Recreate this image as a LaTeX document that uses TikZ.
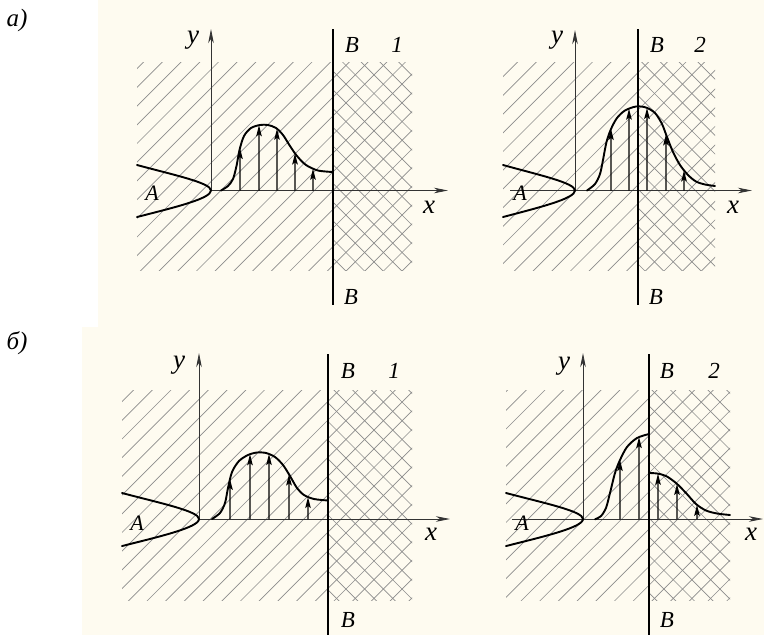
\documentclass[tikz,border=0pt]{standalone}
\usepackage{fontspec}
\setmainfont{Liberation Serif}
\usetikzlibrary{arrows.meta,intersections}
\definecolor{cream}{RGB}{254,251,240}
\definecolor{hatchgray}{RGB}{140,140,140}
\tikzset{
 hatchline/.style={hatchgray, line width=0.65pt},
 axisline/.style={black!80, line width=0.8pt},
 axisarrow/.style={axisline, -{Stealth[length=14pt,width=5.5pt,inset=4pt]}},
 barrier/.style={black, line width=2.4pt},
 curveline/.style={black, line width=1.9pt, line join=round, line cap=round},
 vec/.style={black, line width=1.4pt, -{Stealth[length=11pt,width=5.5pt,inset=2pt]}},
 lbl/.style={inner sep=0pt, font=\fontsize{23}{27}\selectfont\itshape},
 albl/.style={inner sep=0pt, font=\fontsize{22}{26}\selectfont\itshape},
 varlbl/.style={inner sep=0pt, font=\fontsize{27}{31}\selectfont\itshape},
 panlbl/.style={inner sep=0pt, font=\fontsize{25}{29}\selectfont\itshape},
}
\newcommand\fwdhatch[4]{%
 \begin{scope}
 \clip (#1,#2) rectangle (#3,#4);
 \pgfmathsetmacro\hcs{18.7*floor((#1+#2)/18.7)}
 \pgfmathsetmacro\hcn{\hcs+18.7}
 \pgfmathsetmacro\hce{#3+#4+18.7}
 \foreach \hk in {\hcs,\hcn,...,\hce} \draw[hatchline] (\hk-#2+2,#2-2) -- (\hk-#4-2,#4+2);
 \end{scope}}
\newcommand\backhatch[4]{%
 \begin{scope}
 \clip (#1,#2) rectangle (#3,#4);
 \pgfmathsetmacro\hcs{18.7*floor((#1-#4)/18.7)}
 \pgfmathsetmacro\hcn{\hcs+18.7}
 \pgfmathsetmacro\hce{#3-#2+18.7}
 \foreach \hk in {\hcs,\hcn,...,\hce} \draw[hatchline] (\hk+#2-2,#2-2) -- (\hk+#4+2,#4+2);
 \end{scope}}
\newcommand\vecs[3]{%
 \foreach \xx in {#3}{
  \path[name path=vline] (\xx,#2) -- (\xx,#2-150);
  \path[name intersections={of=#1 and vline, by=tp}];
  \coordinate (bp) at (\xx,#2);
  \draw[vec] (bp) -- (tp);
 }}
\newcommand\parab[4]{% vertex x, vertex y, left x, half-height
 \draw[curveline] (#3,#2-#4) .. controls ({#3+0.51*(#1-#3)},#2-#4*0.6) and (#1,#2-#4*0.3) .. (#1,#2)
   .. controls (#1,#2+#4*0.32) and ({#3+0.51*(#1-#3)},#2+#4*0.66) .. (#3,#2+#4*1.04);}
\begin{document}
\begin{tikzpicture}[x=1pt,y=-1pt]
\useasboundingbox (0,0) rectangle (764,635);
\fill[white] (0,0) rectangle (764,635);
\fill[cream] (98,0) rectangle (764,327);
\fill[cream] (82,327) rectangle (764,635);

\node[panlbl] (la) at (17,20) {а)};
\node[panlbl] (lb) at (17,343) {б)};

% ---------- panel a1 ----------
\fwdhatch{137}{62}{412}{270}
\backhatch{333}{62}{412}{270}
\draw[axisarrow] (211,190.5) -- (211,29);
\draw[axisarrow] (211,190.5) -- (448,190.5);
\parab{211}{190.5}{137}{25.5}
\draw[curveline, name path=ca1] plot[smooth, tension=0.5] coordinates {(221,190.5) (228,186) (233,179) (236.5,166) (239.5,150) (244,136) (251,128) (260,125) (268,125) (276,128) (283,135) (290,146) (297,156) (306,165) (318,170.5) (333,172)};
\vecs{ca1}{190.5}{240,259,277,295,313}
\draw[barrier] (333,29) -- (333,305);
\node[varlbl] (ya1) at (193,40) {y};
\node[varlbl] (xa1) at (429,207) {x};
\node[albl] (Aa1) at (152,193) {A};
\node[lbl] (Ba1) at (352,45) {B};
\node[lbl] (na1) at (397,45) {1};
\node[lbl] (Bb1) at (351,297) {B};

% ---------- panel a2 ----------
\fwdhatch{503}{62}{715}{270}
\backhatch{638}{62}{715}{270}
\draw[axisarrow] (575,190.5) -- (575,30);
\draw[axisarrow] (510,190.5) -- (752,190.5);
\parab{575}{190.5}{503}{25.5}
\draw[curveline, name path=ca2] plot[smooth, tension=0.5] coordinates {(587,190.5) (595,184) (600,174) (603,160) (606.5,142) (611,129) (617,118) (625,110.5) (636,106.5) (646,107.5) (655,113) (662,124) (667,137) (673,152) (680,165) (688,175) (696,181.5) (705,184.5) (715,186)};
\vecs{ca2}{190.5}{611,629,647,666,684}
\draw[barrier] (638,29) -- (638,305);
\node[varlbl] (ya2) at (557,40) {y};
\node[varlbl] (xa2) at (733,207) {x};
\node[albl] (Aa2) at (520,193) {A};
\node[lbl] (Ba2) at (657,45) {B};
\node[lbl] (na2) at (700,45) {2};
\node[lbl] (Bb2) at (656,297) {B};

% ---------- panel b1 ----------
\fwdhatch{122}{390}{412}{600}
\backhatch{328}{390}{412}{600}
\draw[axisarrow] (199,519) -- (199,353);
\draw[axisarrow] (199,519) -- (450,519);
\parab{199}{519}{122}{26}
\draw[curveline, name path=cb1] plot[smooth, tension=0.5] coordinates {(212,519) (220,513) (225,503) (228,488) (232,472) (239,461) (248,455) (257,452.5) (266,453) (275,457) (283,465) (290,476) (297,488) (304,495) (314,499) (328,500.5)};
\vecs{cb1}{519}{230,250,269,289,308}
\draw[barrier] (328,354) -- (328,635);
\node[varlbl] (yb1) at (179,365) {y};
\node[varlbl] (xb1) at (431,534) {x};
\node[albl] (Ab1) at (137,523) {A};
\node[lbl] (Bb1t) at (348,371) {B};
\node[lbl] (nb1) at (394,371) {1};
\node[lbl] (Bb1b) at (348,620) {B};

% ---------- panel b2 ----------
\fwdhatch{506}{390}{730}{600}
\backhatch{649}{390}{730}{600}
\draw[axisarrow] (583,519) -- (583,353);
\draw[axisarrow] (512,519) -- (763,519);
\parab{583}{519}{506}{26}
\draw[curveline, name path=cb2l] plot[smooth, tension=0.5] coordinates {(595,519.3) (601,516) (606,508) (610,493) (615,473) (620,460) (627,447) (637,438) (649,434)};
\draw[curveline, name path=cb2r] plot[smooth, tension=0.5] coordinates {(649,473) (657,473.5) (666,476) (676,483) (686,493) (696,504) (706,510.5) (717,513.5) (730,515)};
\vecs{cb2l}{519}{620,639}
\vecs{cb2r}{519}{658,677,697}
\draw[barrier] (649,354) -- (649,635);
\node[varlbl] (yb2) at (564,366) {y};
\node[varlbl] (xb2) at (751,534) {x};
\node[albl] (Ab2) at (522,523) {A};
\node[lbl] (Bb2t) at (667,371) {B};
\node[lbl] (nb2) at (714,371) {2};
\node[lbl] (Bb2b) at (667,620) {B};
\end{tikzpicture}
\end{document}
